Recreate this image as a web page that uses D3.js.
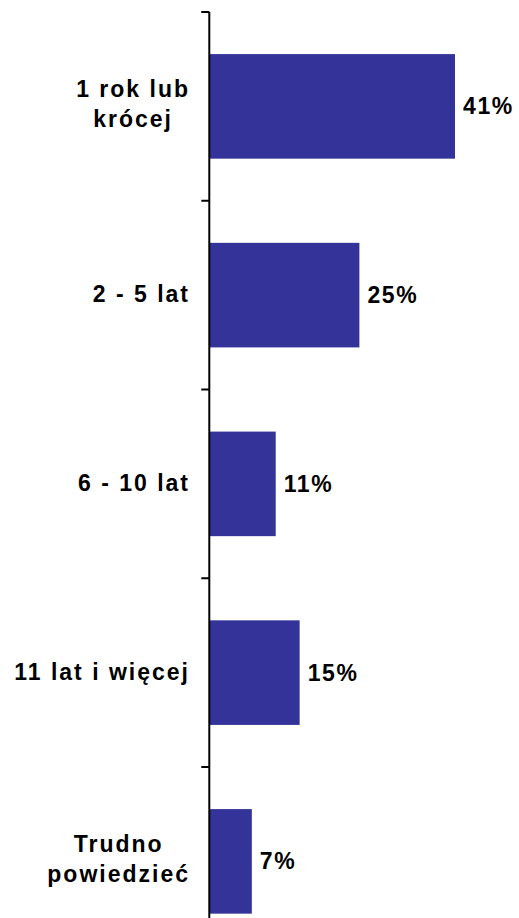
<!DOCTYPE html>
<html>
<head>
<meta charset="utf-8">
<script src="https://cdn.jsdelivr.net/npm/d3@7"></script>
<style>
  html, body { margin: 0; padding: 0; background: #ffffff; }
  svg { display: block; }
  text { font-family: "Liberation Sans", Arial, sans-serif; font-weight: bold; fill: #000; }
</style>
</head>
<body>
<script>
const categories = [["1 rok lub", "krócej"], ["2 - 5 lat"], ["6 - 10 lat"], ["11 lat i więcej"], ["Trudno", "powiedzieć"]];
const values = [41, 25, 11, 15, 7];
const valueLabels = ["41%", "25%", "11%", "15%", "7%"];

const W = 519, H = 918;
const svg = d3.select("body").append("svg").attr("width", W).attr("height", H);

const keys = categories.map((c, i) => i);
const y = d3.scaleBand().domain(keys).range([12, 955.75]).paddingInner(0.446).paddingOuter(0.223);
const x = d3.scaleLinear().domain([0, 41]).range([210, 455]);

// bars
svg.selectAll("rect.bar").data(values).enter().append("rect")
  .attr("class", "bar")
  .attr("x", x(0))
  .attr("y", (d, i) => y(i))
  .attr("width", d => x(d) - x(0))
  .attr("height", y.bandwidth())
  .attr("fill", "#333399");

// axis line and ticks at band boundaries
const axisX = 209.3;
svg.append("line").attr("x1", axisX).attr("x2", axisX).attr("y1", y.range()[0]).attr("y2", H)
  .attr("stroke", "#000").attr("stroke-width", 2);
d3.range(categories.length + 1).forEach(i => {
  const ty = y.range()[0] + i * y.step();
  svg.append("line").attr("x1", axisX - 8).attr("x2", axisX).attr("y1", ty).attr("y2", ty)
    .attr("stroke", "#000").attr("stroke-width", 2);
});

// category labels
const fs = 23, ls = 2, lh = 30;
categories.forEach((lines, i) => {
  const cy = y(i) + y.bandwidth() / 2;
  const g = svg.append("g");
  const texts = lines.map((t, j) => g.append("text")
    .attr("font-size", fs).attr("letter-spacing", ls)
    .attr("text-anchor", "middle")
    .attr("y", cy + 8 + (j - (lines.length - 1) / 2) * lh - (lines.length > 1 ? 2.5 : 1))
    .text(t));
  const maxW = d3.max(texts, t => t.node().getComputedTextLength());
  const right = 190;
  texts.forEach(t => t.attr("x", right - maxW / 2));
});

// value labels
svg.selectAll("text.val").data(values).enter().append("text")
  .attr("class", "val")
  .attr("font-size", fs).attr("letter-spacing", 1.6)
  .attr("x", d => x(d) + 8)
  .attr("y", (d, i) => y(i) + y.bandwidth() / 2 + 8)
  .text((d, i) => valueLabels[i]);
</script>
</body>
</html>
